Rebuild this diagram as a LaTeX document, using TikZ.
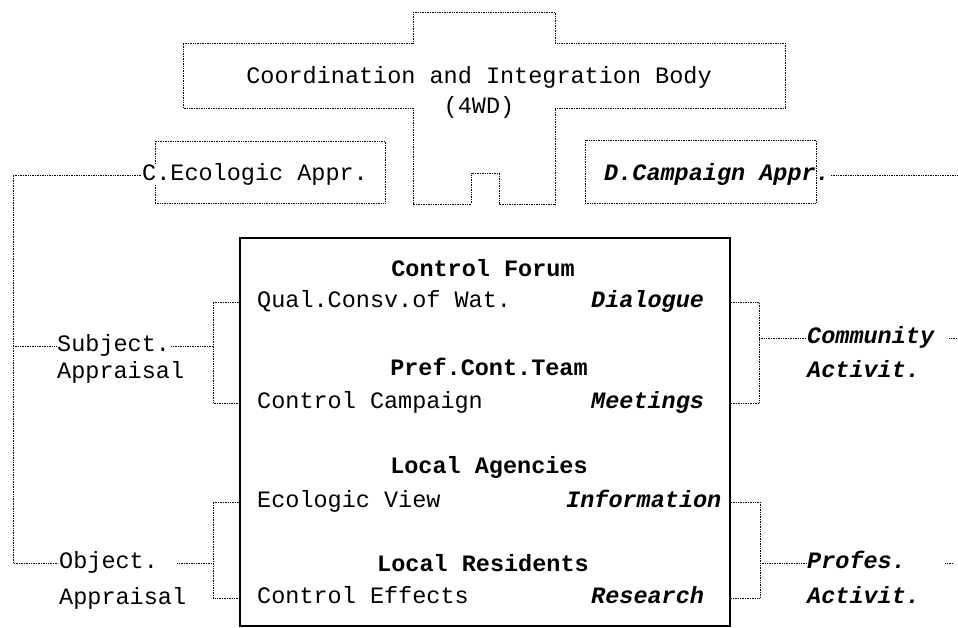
\documentclass[tikz,border=0pt]{standalone}
\usepackage{fontspec}
\setmainfont{Liberation Mono}

\begin{document}
\begin{tikzpicture}[x=1pt,y=-1pt,
  every node/.style={font=\fontsize{23.5}{30}\selectfont,inner sep=1pt,text height=15pt,text depth=4pt},
  hd/.style={font=\fontsize{23.5}{30}\selectfont\bfseries},
  it/.style={font=\fontsize{23.5}{30}\selectfont\bfseries\itshape},
  txt/.style={anchor=west},
  link/.style={densely dotted,line width=0.7pt},
  forum/.style={draw,line width=2pt,minimum width=490pt,minimum height=388pt}]
  \useasboundingbox (0,0) rectangle (958,628);
  \draw[link] (413,12) -- (555,12) -- (555,43) -- (785,43) -- (785,108) -- (555,108)
    -- (555,204) -- (499,204) -- (499,173) -- (471,173) -- (471,204) -- (413,204)
    -- (413,108) -- (183,108) -- (183,43) -- (413,43) -- cycle;
  \node[align=center,text height=,text depth=] (body) at (479,92) {Coordination and Integration Body\\(4WD)};
  \node[link,draw,minimum width=230pt,minimum height=62pt] (cbox) at (270,172) {};
  \node[txt,fill=white] (capp) at (141,175) {C.Ecologic Appr.};
  \node[link,draw,minimum width=231pt,minimum height=63pt] (dbox) at (700.5,171.5) {};
  \node[txt,it] (dapp) at (603,175) {D.Campaign Appr.};

  \node[forum] (frm) at (485,432) {};
  \node[hd] (cf) at (483,271) {Control Forum};
  \node[txt] (qual) at (256,302) {Qual.Consv.of Wat.};
  \node[txt,it] (dia) at (590,302) {Dialogue};
  \node[hd] (pct) at (489,370) {Pref.Cont.Team};
  \node[txt] (camp) at (256,403) {Control Campaign};
  \node[txt,it] (meet) at (590,403) {Meetings};
  \node[hd] (la) at (489,468) {Local Agencies};
  \node[txt] (eco) at (256,502) {Ecologic View};
  \node[txt,it] (info) at (565,502) {Information};
  \node[hd] (lr) at (483,566) {Local Residents};
  \node[txt] (eff) at (256,598) {Control Effects};
  \node[txt,it] (res) at (590,598) {Research};

  \node[txt] (subj) at (56,346) {Subject.};
  \node[txt] (subj2) at (56,373) {Appraisal};
  \node[txt] (obj) at (58,563) {Object.};
  \node[txt] (obj2) at (58,599) {Appraisal};
  \coordinate (trunk) at (13,175);
  \coordinate (sbr) at (213,346);
  \coordinate (obr) at (213,563);
  \draw[link] (capp.west) -- (trunk) |- (obj.west);
  \draw[link] (trunk |- subj.west) -- (subj.west);
  \draw[link] (frm.west |- qual.west) -| (sbr) |- (frm.west |- camp.west);
  \draw[link] (subj.east) -- (sbr);
  \draw[link] (frm.west |- eco.west) -| (obr) |- (frm.west |- eff.west);
  \draw[link] ([xshift=18pt]obj.east) -- (obr);

  \node[txt,it] (comm) at (806,338) {Community};
  \node[txt,it] (comm2) at (806,372) {Activit.};
  \node[txt,it] (prof) at (806,563) {Profes.};
  \node[txt,it] (prof2) at (806,598) {Activit.};
  \coordinate (cbr) at (759,338);
  \coordinate (pbr) at (760,563);
  \coordinate (dend) at (958,175);
  \coordinate (cend) at (958,338);
  \coordinate (pend) at (953,563);
  \draw[link] (dapp.east) -- (dend);
  \draw[link] (frm.east |- dia.west) -| (cbr) |- (frm.east |- meet.west);
  \draw[link] (cbr) -- (comm.west);
  \draw[link] ([xshift=14pt]comm.east) -- (cend);
  \draw[link] (frm.east |- info.west) -| (pbr) |- (frm.east |- res.west);
  \draw[link] (pbr) -- (prof.west);
  \draw[link] ([xshift=38pt]prof.east) -- (pend);
\end{tikzpicture}
\end{document}
